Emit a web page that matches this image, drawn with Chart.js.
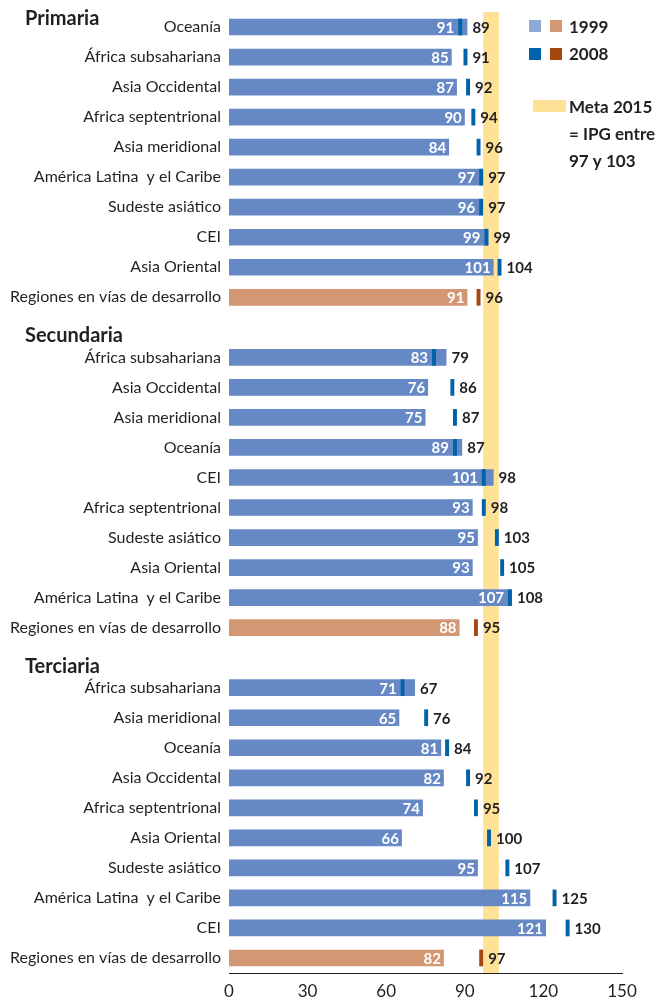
<!DOCTYPE html>
<html>
<head>
<meta charset="utf-8">
<script src="https://cdn.jsdelivr.net/npm/chart.js"></script>
<style>
  html, body { margin: 0; padding: 0; background: #fff; }
  #wrap { width: 667px; height: 999px; }
</style>
</head>
<body>
<div id="wrap"><canvas id="ipgChart" width="667" height="999"></canvas></div>
<script>
// Índice de paridad de género (IPG) 1999 y 2008
const sections = ['Primaria', 'Secundaria', 'Terciaria'];

const primariaRegions = ['Oceanía', 'África subsahariana', 'Asia Occidental', 'Africa septentrional', 'Asia meridional',
  'América Latina  y el Caribe', 'Sudeste asiático', 'CEI', 'Asia Oriental', 'Regiones en vías de desarrollo'];
const primaria1999 = [91, 85, 87, 90, 84, 97, 96, 99, 101, 91];
const primaria2008 = [89, 91, 92, 94, 96, 97, 97, 99, 104, 96];

const secundariaRegions = ['África subsahariana', 'Asia Occidental', 'Asia meridional', 'Oceanía', 'CEI',
  'Africa septentrional', 'Sudeste asiático', 'Asia Oriental', 'América Latina  y el Caribe', 'Regiones en vías de desarrollo'];
const secundaria1999 = [83, 76, 75, 89, 101, 93, 95, 93, 107, 88];
const secundaria2008 = [79, 86, 87, 87, 98, 98, 103, 105, 108, 95];

const terciariaRegions = ['África subsahariana', 'Asia meridional', 'Oceanía', 'Asia Occidental', 'Africa septentrional',
  'Asia Oriental', 'Sudeste asiático', 'América Latina  y el Caribe', 'CEI', 'Regiones en vías de desarrollo'];
const terciaria1999 = [71, 65, 81, 82, 74, 66, 95, 115, 121, 82];
const terciaria2008 = [67, 76, 84, 92, 95, 100, 107, 125, 130, 97];

const xTicks = [0, 30, 60, 90, 120, 150];
const metaRange = [97, 103];

// header slots get an empty label and no data
const labels = [...primariaRegions, '', ...secundariaRegions, '', ...terciariaRegions];
const v1999 = [...primaria1999, null, ...secundaria1999, null, ...terciaria1999];
const v2008 = [...primaria2008, null, ...secundaria2008, null, ...terciaria2008];
const headerSlots = [null, 10, 21];

const DEV = 'Regiones en vías de desarrollo';
const C = {
  bar: '#6689c6', barLegend: '#8ea8d8', mark: '#0063a9',
  devBar: '#d39873', devMark: '#a6470f', meta: '#ffe297', text: '#231f20'
};
const FONT = 'Lato, "Open Sans", sans-serif';

const bandPlugin = {
  id: 'metaBand',
  beforeDatasetsDraw(chart) {
    const { ctx, chartArea, scales } = chart;
    const x0 = scales.x.getPixelForValue(metaRange[0]);
    const x1 = scales.x.getPixelForValue(metaRange[1]);
    ctx.save();
    ctx.fillStyle = C.meta;
    ctx.fillRect(x0, chartArea.top, x1 - x0, chartArea.bottom - chartArea.top);
    ctx.restore();
  }
};

const labelPlugin = {
  id: 'valueLabels',
  afterDatasetsDraw(chart) {
    const { ctx, scales } = chart;
    const bars = chart.getDatasetMeta(1).data;
    ctx.save();
    ctx.font = `bold 15px ${FONT}`;
    ctx.textBaseline = 'middle';
    labels.forEach((lab, i) => {
      if (v1999[i] == null) return;
      const b = bars[i];
      const barEnd = b.x;
      const markL = scales.x.getPixelForValue(v2008[i] - 1.5);
      const markR = scales.x.getPixelForValue(v2008[i]);
      const y = b.y + 1;
      // 1999 value inside the bar
      ctx.fillStyle = '#fff';
      ctx.textAlign = 'right';
      const inner = markL < barEnd ? markL - 4 : barEnd - 3;
      ctx.fillText(String(v1999[i]), inner, y);
      // 2008 value after bar / marker
      ctx.fillStyle = C.text;
      ctx.textAlign = 'left';
      ctx.fillText(String(v2008[i]), Math.max(barEnd, markR) + 5, y);
    });

    // section headers
    ctx.font = `bold 20px ${FONT}`;
    ctx.textAlign = 'left';
    ctx.textBaseline = 'alphabetic';
    ctx.fillStyle = C.text;
    sections.forEach((s, k) => {
      const y = headerSlots[k] == null ? chart.chartArea.top + 13 : scales.y.getPixelForValue(headerSlots[k]) + 15;
      ctx.fillText(s, 25, y);
    });

    // legend
    ctx.fillStyle = C.barLegend; ctx.fillRect(529, 20, 12, 12);
    ctx.fillStyle = C.devBar; ctx.fillRect(550, 20, 12, 12);
    ctx.fillStyle = C.mark; ctx.fillRect(529, 48, 12, 12);
    ctx.fillStyle = C.devMark; ctx.fillRect(550, 48, 12, 12);
    ctx.fillStyle = C.meta; ctx.fillRect(533, 100, 33, 12);
    ctx.fillStyle = C.text;
    ctx.font = `bold 17px ${FONT}`;
    ctx.textBaseline = 'middle';
    ctx.fillText('1999', 569, 28);
    ctx.fillText('2008', 569, 55);
    ctx.fillText('Meta 2015', 569, 108);
    ctx.fillText('= IPG entre', 569, 135);
    ctx.fillText('97 y 103', 569, 162);
    ctx.restore();
  }
};

new Chart(document.getElementById('ipgChart'), {
  type: 'bar',
  data: {
    labels,
    datasets: [
      {
        label: '2008',
        data: v2008.map(v => v == null ? null : [v - 1.5, v]),
        backgroundColor: labels.map(l => l === DEV ? C.devMark : C.mark),
        grouped: false,
        order: 1,
        categoryPercentage: 1,
        barPercentage: 0.556
      },
      {
        label: '1999',
        data: v1999,
        backgroundColor: labels.map(l => l === DEV ? C.devBar : C.bar),
        grouped: false,
        order: 2,
        categoryPercentage: 1,
        barPercentage: 0.556
      }
    ]
  },
  options: {
    indexAxis: 'y',
    responsive: false,
    animation: false,
    layout: { padding: { top: 12, right: 45, bottom: 0, left: 0 } },
    plugins: { legend: { display: false }, tooltip: { enabled: false } },
    scales: {
      x: {
        min: 0, max: 150,
        afterBuildTicks: s => { s.ticks = xTicks.map(v => ({ value: v })); },
        afterFit: s => { s.height = 26; },
        grid: { display: false, drawTicks: false },
        border: { display: true, color: '#231f20', width: 1 },
        ticks: { color: C.text, font: { family: FONT, size: 17 }, padding: 8 }
      },
      y: {
        afterFit: s => { s.width = 229; s.paddingTop = 0; s.paddingBottom = 0; },
        grid: { display: false, drawTicks: false },
        border: { display: false },
        ticks: { color: C.text, font: { family: FONT, size: 16 }, padding: 8, autoSkip: false }
      }
    }
  },
  plugins: [bandPlugin, labelPlugin]
});
</script>
</body>
</html>
